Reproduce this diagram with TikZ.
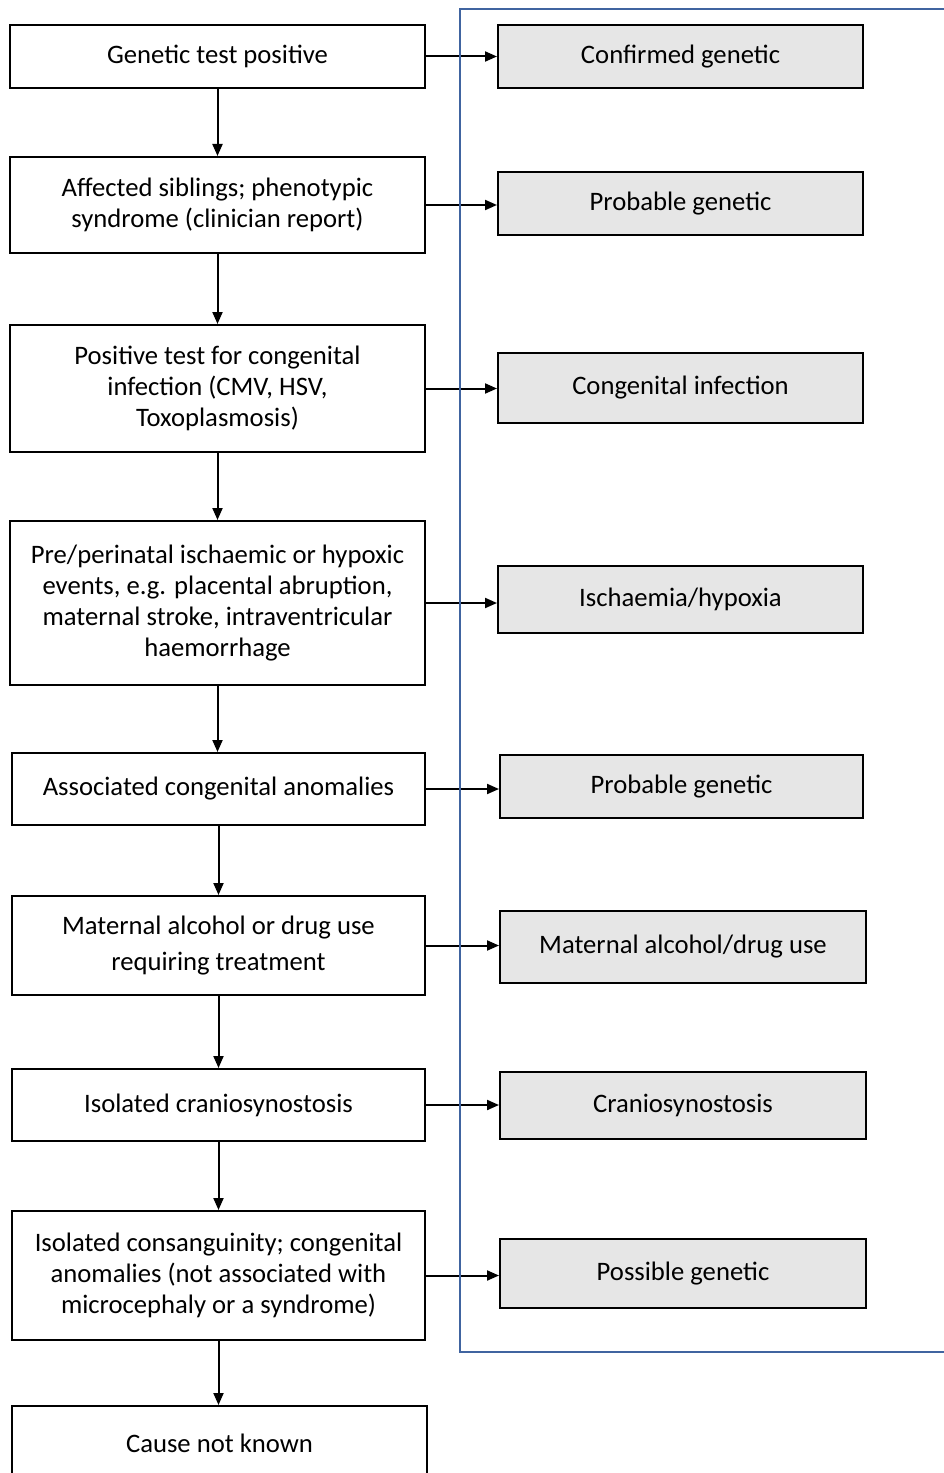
\documentclass[tikz,border=0pt]{standalone}
\usepackage{fontspec}
\setmainfont{Carlito}
\usetikzlibrary{arrows.meta}
\definecolor{boxgrey}{HTML}{E6E6E6}
\definecolor{frameblue}{HTML}{4064A0}
\begin{document}
\begin{tikzpicture}[x=0.75pt,y=-0.75pt,
  every node/.style={font=\fontsize{20}{23.4}\selectfont, align=center, inner sep=0pt, line width=1.5pt},
  lbox/.style={draw=black, fill=white, minimum width=311.25pt},
  rbox/.style={draw=black, fill=boxgrey},
  conn/.style={line width=1.5pt, -{Triangle[length=9pt,width=7.5pt]}}]
\clip (0,0) rectangle (944,1473);
\fill[white] (0,0) rectangle (944,1473);
% left column
\node[lbox, minimum height=47.25pt] (L1) at (217.5,56.5) {Genetic test positive};
\node[lbox, minimum height=72pt] (L2) at (217.5,205) {Affected siblings; phenotypic\\syndrome (clinician report)};
\node[lbox, minimum height=95.25pt] (L3) at (217.5,388.5) {Positive test for congenital\\infection (CMV, HSV,\\Toxoplasmosis)};
\node[lbox, minimum height=123pt] (L4) at (217.5,603) {Pre/perinatal ischaemic or hypoxic\\events, e.g. placental abruption,\\maternal stroke, intraventricular\\haemorrhage};
\node[lbox, minimum width=309.75pt, minimum height=54pt] (L5) at (218.5,789) {Associated congenital anomalies};
\node[lbox, minimum width=309.75pt, minimum height=74.25pt] (L6) at (218.5,945.5) {Maternal alcohol or drug use\\[3.5pt]requiring treatment};
\node[lbox, minimum width=309.75pt, minimum height=54pt] (L7) at (218.5,1105) {Isolated craniosynostosis};
\node[lbox, minimum width=309.75pt, minimum height=96.75pt] (L8) at (218.5,1275.5) {Isolated consanguinity; congenital\\anomalies (not associated with\\microcephaly or a syndrome)};
\node[lbox, minimum height=55.5pt] (L9) at (219.5,1443) {Cause not known};
% right column
\node[rbox, minimum width=273.75pt, minimum height=47.25pt] (R1) at (680.5,56.5) {Confirmed genetic};
\node[rbox, minimum width=273.75pt, minimum height=47.25pt] (R2) at (680.5,203.5) {Probable genetic};
\node[rbox, minimum width=273.75pt, minimum height=52.5pt] (R3) at (680.5,388) {Congenital infection};
\node[rbox, minimum width=273.75pt, minimum height=50.25pt] (R4) at (680.5,599.5) {Ischaemia/hypoxia};
\node[rbox, minimum width=272.25pt, minimum height=47.25pt] (R5) at (681.5,786.5) {Probable genetic};
\node[rbox, minimum width=274.5pt, minimum height=54pt] (R6) at (683,947) {Maternal alcohol/drug use};
\node[rbox, minimum width=274.5pt, minimum height=50.25pt] (R7) at (683,1105.5) {Craniosynostosis};
\node[rbox, minimum width=274.5pt, minimum height=51.75pt] (R8) at (683,1273.5) {Possible genetic};
% vertical connectors
\draw[conn] (L1.south) -- (L2.north);
\draw[conn] (L2.south) -- (L3.north);
\draw[conn] (L3.south) -- (L4.north);
\draw[conn] (L4.south) -- (L4.south |- L5.north);
\draw[conn] (L5.south) -- (L6.north);
\draw[conn] (L6.south) -- (L7.north);
\draw[conn] (L7.south) -- (L8.north);
\draw[conn] (L8.south) -- (L8.south |- L9.north);
% horizontal connectors
\foreach \i in {1,...,8} {
  \draw[conn] (L\i.east) -- (L\i.east -| R\i.west);
}
% blue frame
\draw[frameblue, line width=1.3pt] (460,9) rectangle (980,1352);
\end{tikzpicture}
\end{document}
